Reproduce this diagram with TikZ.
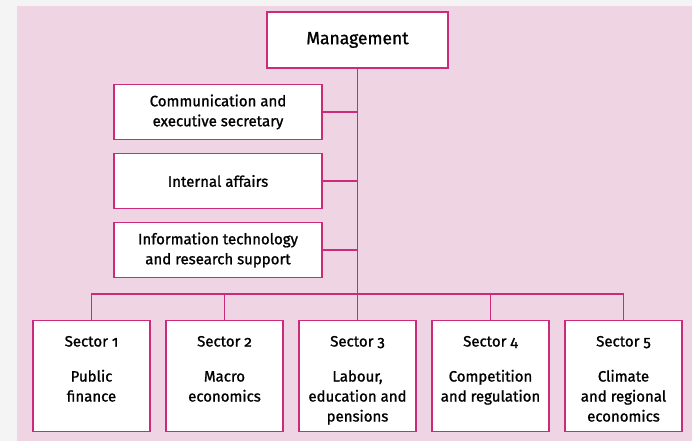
\documentclass[tikz,border=0pt]{standalone}
\usepackage{fontspec}
\setmainfont[Numbers=OldStyle,FakeBold=1.2]{Fira Sans}
\definecolor{framepink}{HTML}{CC2A7A}
\definecolor{backpink}{HTML}{EFD5E3}
\definecolor{backgray}{HTML}{F4F4F4}
\newcommand{\sectorlabel}[2]{\parbox[t][92pt][t]{110pt}{\centering\vspace*{6pt}#1\\[15pt]#2}}
\tikzstyle{link} = [draw=framepink,line width=1.4pt]
\tikzstyle{unit}=[
  rectangle,
  draw=framepink,
  line width=1.4pt,
  fill=white,
  align=center,
  anchor=center,
  font=\fontsize{15}{20}\selectfont,
]
\tikzstyle{head}=[
  unit,
  minimum width=181pt,
  minimum height=56pt,
  font=\fontsize{17.5}{21}\selectfont,
]
\tikzstyle{staff}=[
  unit,
  minimum width=208pt,
  minimum height=55pt,
]
\tikzstyle{sector}=[
  unit,
  minimum width=117pt,
  minimum height=111pt,
  inner sep=2pt,
]

\begin{document}
\begin{tikzpicture}[x=1pt,y=-1pt]
  \fill[backgray] (0,0) rectangle (692,441);
  \fill[backpink] (17,6) rectangle (692,441);
  \useasboundingbox (0,0) rectangle (692,441);

  \node[head] (mgmt) at (357.5,40) {Management};
  \node[staff] (comm) at ([xshift=-139.5pt, yshift=-72pt] mgmt.center) {Communication and\\executive secretary};
  \node[staff] (internal) at ([yshift=-69pt] comm.center) {Internal affairs};
  \node[staff] (ict) at ([yshift=-69pt] internal.center) {Information technology\\and research support};
  \coordinate (bus) at ([yshift=-254pt] mgmt.center);

  \node[sector] (sector3) at ([yshift=-336pt] mgmt.center) {\sectorlabel{Sector 3}{Labour,\\education and\\pensions}};
  \node[sector] (sector2) at ([xshift=-133pt] sector3.center) {\sectorlabel{Sector 2}{Macro\\economics}};
  \node[sector] (sector1) at ([xshift=-133pt] sector2.center) {\sectorlabel{Sector 1}{Public\\finance}};
  \node[sector] (sector4) at ([xshift=133pt] sector3.center) {\sectorlabel{Sector 4}{Competition\\and regulation}};
  \node[sector] (sector5) at ([xshift=133pt] sector4.center) {\sectorlabel{Sector 5}{Climate\\and regional\\economics}};

  \draw[link] (mgmt.south) -- (sector3.north);
  \draw[link] (comm.east) -- (comm.east -| mgmt.south);
  \draw[link] (internal.east) -- (internal.east -| mgmt.south);
  \draw[link] (ict.east) -- (ict.east -| mgmt.south);
  \draw[link] (sector1.north) |- (bus) -| (sector5.north);
  \draw[link] (sector2.north) -- (sector2.north |- bus);
  \draw[link] (sector4.north) -- (sector4.north |- bus);
\end{tikzpicture}
\end{document}
